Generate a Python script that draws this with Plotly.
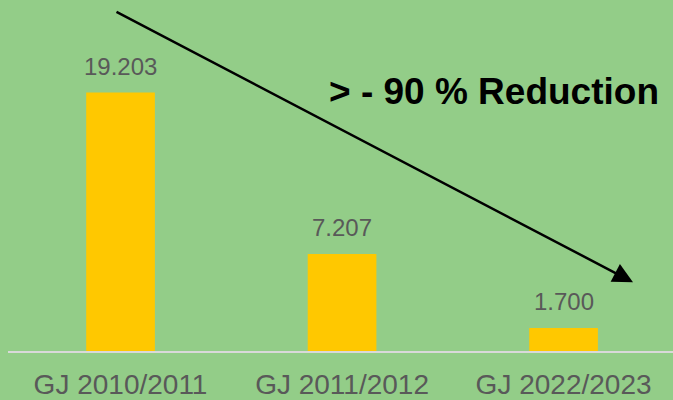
import plotly.graph_objects as go

categories = ["GJ 2010/2011", "GJ 2011/2012", "GJ 2022/2023"]
values = [19203, 7207, 1700]
headline = "> - 90 % Reduction"

BG = "#93CD88"
BAR = "#FFC800"
GRAY = "#595959"
FONT = "Arial, Liberation Sans, sans-serif"

labels = [f"{v:,}".replace(",", ".") for v in values]

fig = go.Figure()
fig.add_trace(go.Bar(x=list(range(len(categories))), y=values, marker_color=BAR,
                     marker_line_width=0, width=0.31, hoverinfo="skip"))

for i, (v, t) in enumerate(zip(values, labels)):
    fig.add_annotation(x=i, y=v, text=t, showarrow=False, yanchor="bottom", yshift=11,
                       font=dict(family=FONT, size=24, color=GRAY))

# trend arrow (pixel offset from tip)
fig.add_annotation(x=(633 - 8) / 665, y=(352 - 283) / 352, xref="paper", yref="paper",
                   ax=-518, ay=-271, axref="pixel", ayref="pixel", text="",
                   showarrow=True, arrowhead=2, arrowsize=1.6, arrowwidth=2.5,
                   arrowcolor="black", standoff=0)

fig.add_annotation(x=(494 - 8) / 665, y=(352 - 92) / 352, xref="paper", yref="paper",
                   xanchor="center", yanchor="middle",
                   text=f"<b>{headline}</b>", showarrow=False,
                   font=dict(family=FONT, size=37, color="black"))

fig.update_layout(
    width=673, height=400,
    margin=dict(l=8, r=0, t=0, b=47),
    paper_bgcolor=BG, plot_bgcolor=BG,
    showlegend=False,
    xaxis=dict(range=[-0.508, 2.494], tickmode="array", tickvals=list(range(len(categories))),
               ticktext=categories, showgrid=False, zeroline=False,
               showline=True, linecolor="#D9D9D9", linewidth=2, ticks="",
               ticklabelstandoff=7,
               tickfont=dict(family=FONT, size=28, color=GRAY)),
    yaxis=dict(range=[0, 26080], visible=False, showgrid=False, zeroline=False),
)

fig.write_html("out.html", config={"displayModeBar": False},
               post_script="document.body.style.margin='0';")
